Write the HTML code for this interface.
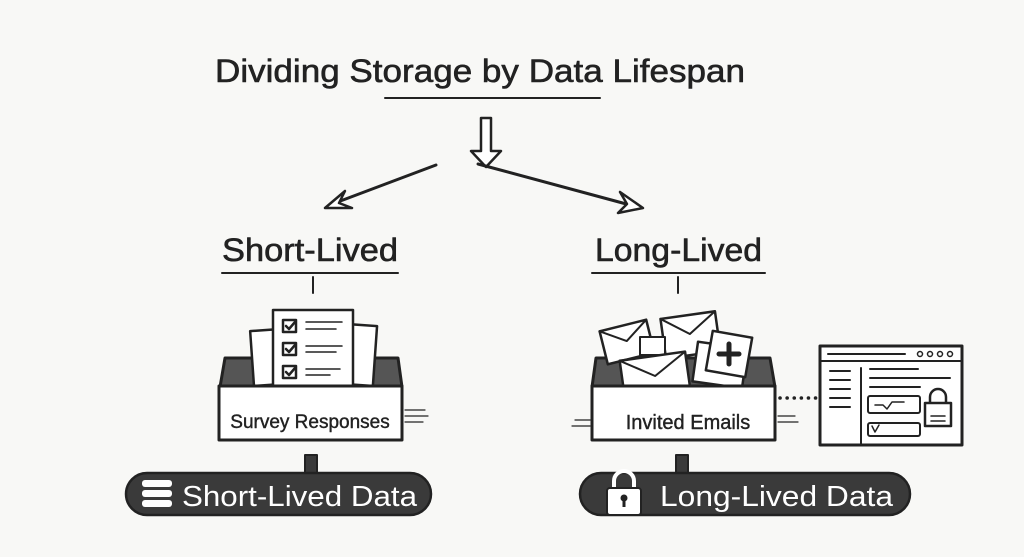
<!DOCTYPE html>
<html><head><meta charset="utf-8"><style>
html,body{margin:0;padding:0;background:#f8f8f6;}
svg{display:block;}
text{font-family:"Liberation Sans",sans-serif;fill:#222;}
</style></head><body>
<svg width="1024" height="557" viewBox="0 0 1024 557" xmlns="http://www.w3.org/2000/svg">
<rect width="1024" height="557" fill="#f8f8f6"/>
<g stroke="#222" fill="none" stroke-linecap="round" stroke-linejoin="round">
<!-- title -->
<text x="215" y="82" font-size="32" textLength="530" lengthAdjust="spacingAndGlyphs" stroke="#222" stroke-width="0.6">Dividing Storage by Data Lifespan</text>
<line x1="385" y1="98" x2="600" y2="98" stroke-width="2"/>
<!-- down arrow -->
<path d="M481 118 L491 118 L491 151 L501 151 L486 167 L471 151 L481 151 Z" stroke-width="2.5" fill="#fff"/>
<!-- diagonal arrows -->
<path d="M436 165 L335 203" stroke-width="3"/>
<path d="M325 208 L345 191 L339 203 L352 208 Z" stroke-width="2.5" fill="#fff"/>
<path d="M478 164 L630 205" stroke-width="3"/>
<path d="M643 208 L620 192 L627 204 L618 213 Z" stroke-width="2.5" fill="#fff"/>
<!-- subtitles -->
<text x="222" y="261" font-size="32" textLength="176" lengthAdjust="spacingAndGlyphs" stroke="#222" stroke-width="0.6">Short-Lived</text>
<line x1="222" y1="273" x2="398" y2="273" stroke-width="2"/>
<line x1="313" y1="277" x2="313" y2="293" stroke-width="2"/>
<text x="595" y="261" font-size="32" textLength="167" lengthAdjust="spacingAndGlyphs" stroke="#222" stroke-width="0.6">Long-Lived</text>
<line x1="592" y1="273" x2="765" y2="273" stroke-width="2"/>
<line x1="678" y1="277" x2="678" y2="293" stroke-width="2"/>

<!-- LEFT BOX -->
<path d="M225 358 L398 358 L402 387 L220 387 Z" fill="#555" stroke-width="3"/>
<rect x="252" y="330" width="30" height="55" fill="#fff" stroke-width="2.5" transform="rotate(-4 267 357)"/>
<rect x="345" y="325" width="30" height="60" fill="#fff" stroke-width="2.5" transform="rotate(4 360 355)"/>
<rect x="273" y="310" width="80" height="78" fill="#fff" stroke-width="2.5"/>
<g stroke-width="2.5">
<rect x="283" y="320" width="13" height="12"/><path d="M286 326 l3 3 l6 -7"/>
<rect x="283" y="343" width="13" height="12"/><path d="M286 349 l3 3 l6 -7"/>
<rect x="283" y="366" width="13" height="12"/><path d="M286 372 l3 3 l6 -7"/>
</g>
<g stroke-width="1.5"><line x1="306" y1="322" x2="342" y2="322"/><line x1="306" y1="329" x2="336" y2="329"/>
<line x1="306" y1="346" x2="342" y2="346"/><line x1="306" y1="352" x2="336" y2="352"/>
<line x1="306" y1="369" x2="340" y2="369"/><line x1="306" y1="375" x2="330" y2="375"/></g>
<rect x="219" y="386" width="183" height="54" fill="#fff" stroke-width="3"/>
<text x="310" y="428" font-size="19" text-anchor="middle" stroke="#222" stroke-width="0.4">Survey Responses</text>
<g stroke-width="1.2"><line x1="405" y1="410" x2="425" y2="410"/><line x1="405" y1="416" x2="428" y2="416"/><line x1="405" y1="422" x2="423" y2="422"/></g>
<rect x="305" y="455" width="12" height="20" fill="#3a3a3a" stroke-width="2"/>
<rect x="126" y="473" width="305" height="42" rx="21" fill="#3a3a3a" stroke-width="2.5"/>
<g fill="#fff" stroke="none"><rect x="142" y="480" width="30" height="7" rx="3"/><rect x="142" y="490" width="30" height="7" rx="3"/><rect x="142" y="500" width="30" height="7" rx="3"/></g>
<text x="182" y="506" font-size="29" textLength="235" lengthAdjust="spacingAndGlyphs" stroke="none" style="fill:#fff">Short-Lived Data</text>

<!-- RIGHT BOX -->
<path d="M596 358 L770 358 L775 387 L592 387 Z" fill="#555" stroke-width="3"/>
<g transform="rotate(-14 627 342)">
<rect x="603" y="325" width="48" height="34" fill="#fff" stroke-width="2.5"/>
<path d="M603 325 l24 16 l24 -16" stroke-width="2"/>
</g>
<g transform="rotate(-8 690 335)">
<rect x="663" y="315" width="55" height="40" fill="#fff" stroke-width="2.5"/>
<path d="M663 315 l27 19 l28 -19" stroke-width="2"/>
</g>
<rect x="640" y="337" width="25" height="18" fill="#fff" stroke-width="2"/>
<g transform="rotate(-8 655 375)">
<rect x="622" y="356" width="66" height="38" fill="#fff" stroke-width="2.5"/>
<path d="M622 356 l33 20 l33 -20" stroke-width="2"/>
</g>
<rect x="695" y="345" width="50" height="40" fill="#fff" stroke-width="2.5" transform="rotate(8 720 365)"/>
<rect x="709" y="334" width="40" height="40" fill="#fff" stroke-width="2.5" transform="rotate(10 729 354)"/>
<path d="M729 344 v20 M719 354 h20" stroke-width="5"/>
<rect x="592" y="386" width="183" height="54" fill="#fff" stroke-width="3"/>
<text x="688" y="429" font-size="20" text-anchor="middle" stroke="#222" stroke-width="0.4">Invited Emails</text>
<g stroke-width="1.2"><line x1="575" y1="420" x2="590" y2="420"/><line x1="572" y1="426" x2="590" y2="426"/><line x1="778" y1="416" x2="795" y2="416"/><line x1="778" y1="422" x2="798" y2="422"/></g>
<line x1="780" y1="398" x2="817" y2="398" stroke-width="3.5" stroke-dasharray="0.1 7"/>
<!-- browser -->
<rect x="820" y="346" width="142" height="99" fill="#fff" stroke-width="3"/>
<line x1="820" y1="361" x2="962" y2="361" stroke-width="2"/>
<line x1="828" y1="354" x2="905" y2="354" stroke-width="2"/>
<g stroke-width="1.5"><circle cx="920" cy="354" r="2.5"/><circle cx="930" cy="354" r="2.5"/><circle cx="940" cy="354" r="2.5"/><circle cx="950" cy="354" r="2.5"/></g>
<line x1="861" y1="368" x2="861" y2="445" stroke-width="2"/>
<g stroke-width="2"><line x1="830" y1="371" x2="850" y2="371"/><line x1="830" y1="380" x2="850" y2="380"/><line x1="830" y1="389" x2="850" y2="389"/><line x1="830" y1="398" x2="850" y2="398"/><line x1="830" y1="407" x2="850" y2="407"/>
<line x1="870" y1="369" x2="918" y2="369"/><line x1="870" y1="378" x2="950" y2="378"/><line x1="870" y1="387" x2="920" y2="387"/></g>
<rect x="868" y="396" width="52" height="17" rx="2" stroke-width="2"/>
<path d="M875 405 h8 l4 4 l5 -7 h12" stroke-width="1.5"/>
<rect x="868" y="423" width="52" height="13" rx="2" stroke-width="2"/>
<path d="M872 426 l3 6 l4 -7" stroke-width="1.5"/>
<path d="M930 403 v-6 a8 8 0 0 1 16 0 v6" stroke-width="2.5"/>
<rect x="925" y="403" width="26" height="23" fill="#fff" stroke-width="2.5"/>
<line x1="931" y1="416" x2="945" y2="416" stroke-width="1.5"/><line x1="931" y1="421" x2="945" y2="421" stroke-width="1.5"/>
<!-- right pill -->
<rect x="676" y="455" width="12" height="20" fill="#3a3a3a" stroke-width="2"/>
<rect x="580" y="473" width="330" height="42" rx="21" fill="#3a3a3a" stroke-width="2.5"/>
<path d="M614 490 v-9 a10 10 0 0 1 20 0 v9" stroke="#fff" stroke-width="4" fill="none"/>
<rect x="607" y="488" width="34" height="27" rx="3" fill="#fff" stroke="#222" stroke-width="2"/>
<circle cx="624" cy="498" r="3.5" fill="#222" stroke="none"/><rect x="622.5" y="498" width="3" height="9" fill="#222" stroke="none"/>
<text x="660" y="506" font-size="29" textLength="233" lengthAdjust="spacingAndGlyphs" stroke="none" style="fill:#fff">Long-Lived Data</text>
</g>
</svg>
</body></html>
